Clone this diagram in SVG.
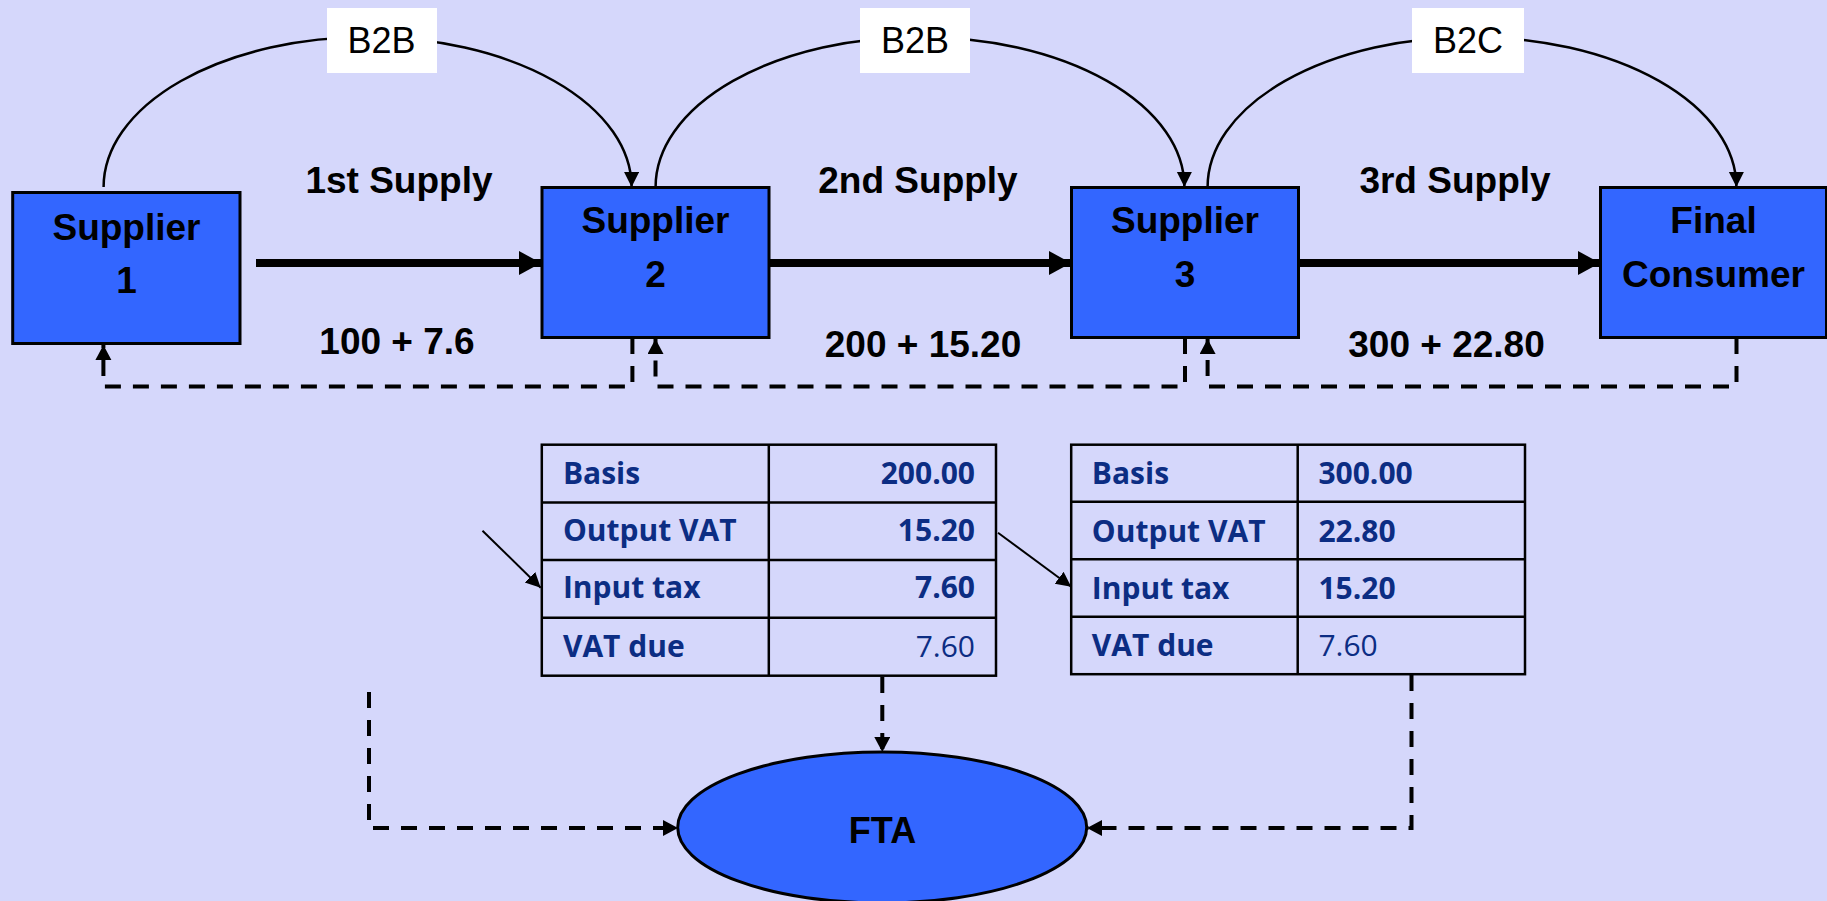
<svg xmlns="http://www.w3.org/2000/svg" width="1827" height="901" viewBox="0 0 1827 901">
<style>
.box{fill:#3366FF;stroke:#000;stroke-width:3}
.bt{font-family:"Liberation Sans",Arial,sans-serif;font-weight:bold;font-size:37px;fill:#000;text-anchor:middle}
.lbl{font-family:"Liberation Sans",Arial,sans-serif;font-size:36px;fill:#000;text-anchor:middle}
.tag{fill:#FFFFFF;stroke:none}
.curve{fill:none;stroke:#000;stroke-width:2.5}
.thick{fill:none;stroke:#000;stroke-width:8}
.dash{fill:none;stroke:#000;stroke-width:4;stroke-dasharray:16 12}
.thin{fill:none;stroke:#000;stroke-width:2}
.tbl{fill:none;stroke:#000;stroke-width:2.5}
.tt{font-family:"Open Sans","Noto Sans",sans-serif;font-weight:bold;font-size:30px;fill:#0C2D83}
.tr{font-family:"Open Sans","Noto Sans",sans-serif;font-weight:normal;font-size:30px;fill:#0C2D83}
</style>
<defs>
<marker id="big" markerUnits="userSpaceOnUse" markerWidth="24" markerHeight="24" refX="22" refY="12" orient="auto" viewBox="0 0 24 24"><path d="M0,0 L22,12 L0,24 Z" fill="#000"/></marker>
<marker id="sm" markerUnits="userSpaceOnUse" markerWidth="16" markerHeight="16" refX="15" refY="7.5" orient="auto" viewBox="0 0 16 16"><path d="M0,0 L15,7.5 L0,15 Z" fill="#000"/></marker>
<marker id="ds" markerUnits="userSpaceOnUse" markerWidth="18" markerHeight="18" refX="15" refY="8" orient="auto" viewBox="0 0 18 18"><path d="M0,0 L15,8 L0,16 Z" fill="#000"/></marker>
</defs>
<rect x="0" y="0" width="1827" height="901" fill="#D5D7FB"/>

<g id="connectors">
  <path class="curve" d="M103.6,187 A264,150 0 0 1 631.6,187" marker-end="url(#sm)"/>
  <path class="curve" d="M655.6,187 A264.4,150 0 0 1 1184.4,187" marker-end="url(#sm)"/>
  <path class="curve" d="M1207.6,187 A264.4,150 0 0 1 1736.4,187" marker-end="url(#sm)"/>
  <line class="thick" x1="256" y1="263" x2="541" y2="263" marker-end="url(#big)"/>
  <line class="thick" x1="769" y1="263" x2="1071" y2="263" marker-end="url(#big)"/>
  <line class="thick" x1="1299" y1="263" x2="1600" y2="263" marker-end="url(#big)"/>
  <path class="dash" d="M632.4,338 V386.5 H103.4 V345" marker-end="url(#ds)"/>
  <path class="dash" d="M1185,338 V386.5 H655.5 V339" marker-end="url(#ds)"/>
  <path class="dash" d="M1736.5,338 V386.5 H1207.6 V339" marker-end="url(#ds)"/>
  <path class="dash" d="M369,692 V828 H678" marker-end="url(#ds)"/>
  <path class="dash" d="M882.3,677 V752" marker-end="url(#ds)"/>
  <path class="dash" d="M1411.5,675 V828 H1087" marker-end="url(#ds)"/>
  <line class="thin" x1="482.5" y1="530.7" x2="540.7" y2="587.7" marker-end="url(#sm)"/>
  <line class="thin" x1="998" y1="532.7" x2="1071.2" y2="586.7" marker-end="url(#sm)"/>
</g>

<g id="label-b2b-1"><rect class="tag" x="327" y="8" width="110" height="65"/><text class="lbl" x="381.5" y="53">B2B</text></g>
<g id="label-b2b-2"><rect class="tag" x="860" y="8" width="110" height="65"/><text class="lbl" x="915" y="53">B2B</text></g>
<g id="label-b2c"><rect class="tag" x="1412" y="8" width="112" height="65"/><text class="lbl" x="1468" y="53">B2C</text></g>

<g id="supply-labels">
  <text class="bt" x="399" y="193">1st Supply</text>
  <text class="bt" x="397" y="354">100 + 7.6</text>
  <text class="bt" x="918" y="193">2nd Supply</text>
  <text class="bt" x="923" y="357">200 + 15.20</text>
  <text class="bt" x="1455" y="193">3rd Supply</text>
  <text class="bt" x="1446.5" y="357">300 + 22.80</text>
</g>

<g id="supplier1"><rect class="box" x="12.7" y="192.5" width="227.3" height="151"/><text class="bt" x="126.5" y="240">Supplier</text><text class="bt" x="126.5" y="293">1</text></g>
<g id="supplier2"><rect class="box" x="542" y="187.5" width="227" height="150"/><text class="bt" x="655.5" y="233">Supplier</text><text class="bt" x="655.5" y="287">2</text></g>
<g id="supplier3"><rect class="box" x="1071.5" y="187.5" width="227" height="150"/><text class="bt" x="1185" y="233">Supplier</text><text class="bt" x="1185" y="287">3</text></g>
<g id="final-consumer"><rect class="box" x="1600.5" y="187.5" width="226" height="150"/><text class="bt" x="1713.5" y="233">Final</text><text class="bt" x="1713.5" y="287">Consumer</text></g>

<g id="table1">
  <rect class="tbl" x="541.8" y="444.7" width="454.2" height="231"/>
  <line class="tbl" x1="768.8" y1="444.7" x2="768.8" y2="675.7"/>
  <line class="tbl" x1="541.8" y1="502.4" x2="996" y2="502.4"/>
  <line class="tbl" x1="541.8" y1="560" x2="996" y2="560"/>
  <line class="tbl" x1="541.8" y1="617.7" x2="996" y2="617.7"/>
  <text class="tt" x="562.9" y="484.3">Basis</text>
  <text class="tt" x="562.9" y="540.7">Output VAT</text>
  <text class="tt" x="562.9" y="598.3">Input tax</text>
  <text class="tt" x="562.9" y="656.5">VAT due</text>
  <text class="tt" x="975" y="484.3" text-anchor="end">200.00</text>
  <text class="tt" x="975" y="540.7" text-anchor="end">15.20</text>
  <text class="tt" x="975" y="598.3" text-anchor="end">7.60</text>
  <text class="tr" x="975" y="656.5" text-anchor="end">7.60</text>
</g>

<g id="table2">
  <rect class="tbl" x="1071.2" y="444.7" width="453.8" height="229.5"/>
  <line class="tbl" x1="1297.7" y1="444.7" x2="1297.7" y2="674.2"/>
  <line class="tbl" x1="1071.2" y1="501.7" x2="1525" y2="501.7"/>
  <line class="tbl" x1="1071.2" y1="559.3" x2="1525" y2="559.3"/>
  <line class="tbl" x1="1071.2" y1="616.7" x2="1525" y2="616.7"/>
  <text class="tt" x="1091.8" y="484.3">Basis</text>
  <text class="tt" x="1091.8" y="541.7">Output VAT</text>
  <text class="tt" x="1091.8" y="599.3">Input tax</text>
  <text class="tt" x="1091.8" y="656">VAT due</text>
  <text class="tt" x="1318.4" y="484.3">300.00</text>
  <text class="tt" x="1318.4" y="541.7">22.80</text>
  <text class="tt" x="1318.4" y="599.3">15.20</text>
  <text class="tr" x="1318.4" y="656">7.60</text>
</g>

<g id="fta"><ellipse cx="882.2" cy="827.5" rx="204.5" ry="75.5" fill="#3366FF" stroke="#000" stroke-width="3"/><text class="bt" x="882.5" y="842.7" style="font-size:36px">FTA</text></g>
</svg>
